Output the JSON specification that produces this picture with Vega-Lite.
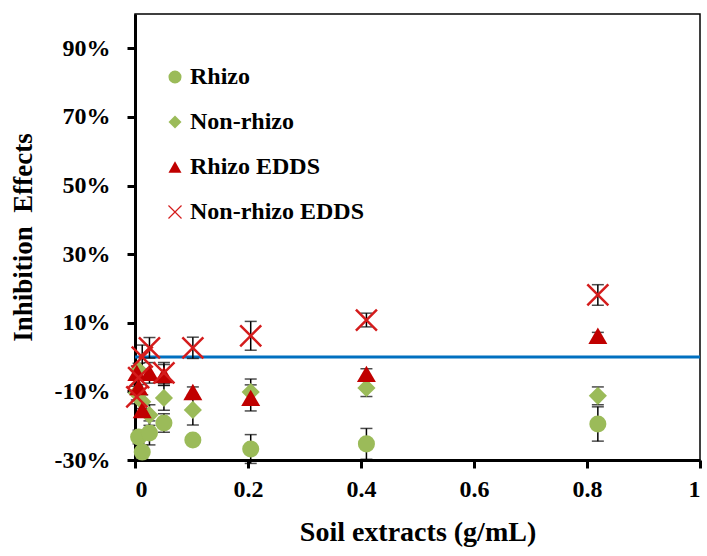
{
  "$schema": "https://vega.github.io/schema/vega-lite/v6.json",
  "width": 565,
  "height": 446,
  "autosize": "none",
  "padding": {"left": 135, "top": 14, "right": 7, "bottom": 96},
  "background": "white",
  "config": {
    "font": "Liberation Serif",
    "view": {"stroke": "black", "strokeWidth": 1.5},
    "axis": {
      "labelFont": "Liberation Serif",
      "labelFontWeight": "bold",
      "labelColor": "black",
      "titleFont": "Liberation Serif",
      "titleFontWeight": "bold",
      "titleColor": "black",
      "domainColor": "black",
      "domainWidth": 3,
      "tickColor": "black",
      "tickWidth": 3,
      "tickSize": 8,
      "grid": false
    },
    "legend": {
      "labelFont": "Liberation Serif",
      "labelFontWeight": "bold",
      "labelFontSize": 24,
      "labelColor": "black",
      "labelLimit": 400,
      "symbolSize": 170,
      "symbolStrokeWidth": 1.2,
      "padding": 0
    }
  },
  "datasets": {
    "points": [
      {"x": 0.0064, "y": -0.233, "lo": -0.253, "hi": -0.213, "series": "Rhizo"},
      {"x": 0.0128, "y": -0.277, "lo": -0.297, "hi": -0.257, "series": "Rhizo"},
      {"x": 0.0256, "y": -0.221, "lo": -0.256, "hi": -0.186, "series": "Rhizo"},
      {"x": 0.0512, "y": -0.192, "lo": -0.219, "hi": -0.165, "series": "Rhizo"},
      {"x": 0.1024, "y": -0.242, "lo": -0.247, "hi": -0.237, "series": "Rhizo"},
      {"x": 0.2048, "y": -0.268, "lo": -0.31, "hi": -0.226, "series": "Rhizo"},
      {"x": 0.4096, "y": -0.253, "lo": -0.298, "hi": -0.208, "series": "Rhizo"},
      {"x": 0.8192, "y": -0.195, "lo": -0.245, "hi": -0.145, "series": "Rhizo"},
      {"x": 0.0032, "y": -0.105, "lo": -0.125, "hi": -0.085, "series": "Non-rhizo"},
      {"x": 0.0064, "y": -0.038, "lo": -0.058, "hi": -0.018, "series": "Non-rhizo"},
      {"x": 0.0128, "y": -0.13, "lo": -0.15, "hi": -0.11, "series": "Non-rhizo"},
      {"x": 0.0256, "y": -0.169, "lo": -0.199, "hi": -0.139, "series": "Non-rhizo"},
      {"x": 0.0512, "y": -0.119, "lo": -0.155, "hi": -0.083, "series": "Non-rhizo"},
      {"x": 0.1024, "y": -0.154, "lo": -0.198, "hi": -0.11, "series": "Non-rhizo"},
      {"x": 0.2048, "y": -0.102, "lo": -0.14, "hi": -0.064, "series": "Non-rhizo"},
      {"x": 0.4096, "y": -0.09, "lo": -0.115, "hi": -0.065, "series": "Non-rhizo"},
      {"x": 0.8192, "y": -0.113, "lo": -0.139, "hi": -0.087, "series": "Non-rhizo"},
      {"x": 0.0032, "y": -0.046, "lo": -0.066, "hi": -0.026, "series": "Rhizo EDDS"},
      {"x": 0.0064, "y": -0.087, "lo": -0.107, "hi": -0.067, "series": "Rhizo EDDS"},
      {"x": 0.0128, "y": -0.154, "lo": -0.174, "hi": -0.134, "series": "Rhizo EDDS"},
      {"x": 0.0256, "y": -0.046, "lo": -0.076, "hi": -0.016, "series": "Rhizo EDDS"},
      {"x": 0.0512, "y": -0.052, "lo": -0.082, "hi": -0.022, "series": "Rhizo EDDS"},
      {"x": 0.1024, "y": -0.102, "lo": -0.117, "hi": -0.087, "series": "Rhizo EDDS"},
      {"x": 0.2048, "y": -0.119, "lo": -0.157, "hi": -0.081, "series": "Rhizo EDDS"},
      {"x": 0.4096, "y": -0.049, "lo": -0.064, "hi": -0.034, "series": "Rhizo EDDS"},
      {"x": 0.8192, "y": 0.062, "lo": 0.052, "hi": 0.072, "series": "Rhizo EDDS"},
      {"x": 0.0032, "y": -0.116, "lo": -0.136, "hi": -0.096, "series": "Non-rhizo EDDS"},
      {"x": 0.0064, "y": -0.06, "lo": -0.08, "hi": -0.04, "series": "Non-rhizo EDDS"},
      {"x": 0.0128, "y": 0.0, "lo": -0.035, "hi": 0.035, "series": "Non-rhizo EDDS"},
      {"x": 0.0256, "y": 0.027, "lo": -0.003, "hi": 0.057, "series": "Non-rhizo EDDS"},
      {"x": 0.0512, "y": -0.046, "lo": -0.076, "hi": -0.016, "series": "Non-rhizo EDDS"},
      {"x": 0.1024, "y": 0.027, "lo": -0.004, "hi": 0.058, "series": "Non-rhizo EDDS"},
      {"x": 0.2048, "y": 0.062, "lo": 0.02, "hi": 0.104, "series": "Non-rhizo EDDS"},
      {"x": 0.4096, "y": 0.108, "lo": 0.088, "hi": 0.128, "series": "Non-rhizo EDDS"},
      {"x": 0.8192, "y": 0.181, "lo": 0.151, "hi": 0.211, "series": "Non-rhizo EDDS"}
    ],
    "baseline": [{"y": 0}]
  },
  "layer": [
    {
      "data": {"name": "baseline"},
      "mark": {"type": "rule", "color": "#0070C0", "strokeWidth": 3},
      "encoding": {
        "y": {"field": "y", "type": "quantitative", "title": "Inhibition\u00a0 Effects", "scale": {"domain": [-0.3, 1.0], "nice": false, "zero": false}}
      }
    },
    {
      "data": {"name": "points"},
      "mark": {
        "type": "errorbar",
        "ticks": {"size": 12, "color": "black", "thickness": 1.5},
        "rule": {"color": "black", "strokeWidth": 1.5}
      },
      "encoding": {
        "x": {"field": "x", "type": "quantitative", "title": "Soil extracts (g/mL)"},
        "y": {"field": "lo", "type": "quantitative", "title": "Inhibition\u00a0 Effects"},
        "y2": {"field": "hi"}
      }
    },
    {
      "data": {"name": "points"},
      "encoding": {
        "x": {
          "field": "x",
          "type": "quantitative",
          "scale": {"domain": [0, 1], "nice": false, "zero": false},
          "axis": {
            "values": [0, 0.2, 0.4, 0.6, 0.8, 1],
            "format": "~g",
            "labelFontSize": 24,
            "labelPadding": 9,
            "title": "Soil extracts (g/mL)",
            "titleFontSize": 28,
            "titlePadding": 17
          }
        },
        "y": {
          "field": "y",
          "type": "quantitative",
          "scale": {"domain": [-0.3, 1.0], "nice": false, "zero": false},
          "axis": {
            "values": [-0.3, -0.1, 0.1, 0.3, 0.5, 0.7, 0.9],
            "format": ".0%",
            "labelExpr": "replace(datum.label, '\u2212', '-')",
            "labelFontSize": 24,
            "labelPadding": 17,
            "title": "Inhibition\u00a0 Effects",
            "titleFontSize": 27,
            "titlePadding": 17
          }
        },
        "shape": {
          "field": "series",
          "type": "nominal",
          "scale": {
            "domain": ["Rhizo", "Non-rhizo", "Rhizo EDDS", "Non-rhizo EDDS"],
            "range": ["circle", "diamond", "triangle-up", "M-1,-1L1,1M-1,1L1,-1"]
          },
          "legend": {"title": null, "orient": "none", "legendX": 28, "legendY": 51, "labelOffset": 3, "rowPadding": 21}
        },
        "fill": {
          "field": "series",
          "type": "nominal",
          "scale": {
            "domain": ["Rhizo", "Non-rhizo", "Rhizo EDDS", "Non-rhizo EDDS"],
            "range": ["#9BBB59", "#9BBB59", "#C00000", "transparent"]
          },
          "legend": {"title": null, "orient": "none", "legendX": 28, "legendY": 51, "labelOffset": 3, "rowPadding": 21}
        },
        "stroke": {
          "field": "series",
          "type": "nominal",
          "scale": {
            "domain": ["Rhizo", "Non-rhizo", "Rhizo EDDS", "Non-rhizo EDDS"],
            "range": ["transparent", "transparent", "transparent", "#D41C1C"]
          },
          "legend": {"title": null, "orient": "none", "legendX": 28, "legendY": 51, "labelOffset": 3, "rowPadding": 21}
        }
      },
      "layer": [
        {
          "transform": [{"filter": "datum.series === 'Rhizo'"}],
          "mark": {"type": "point", "size": 290, "strokeWidth": 2.5, "opacity": 1}
        },
        {
          "transform": [{"filter": "datum.series === 'Non-rhizo'"}],
          "mark": {"type": "point", "size": 330, "strokeWidth": 2.5, "opacity": 1}
        },
        {
          "transform": [{"filter": "datum.series === 'Rhizo EDDS'"}],
          "mark": {"type": "point", "size": 360, "strokeWidth": 2.5, "opacity": 1}
        },
        {
          "transform": [{"filter": "datum.series === 'Non-rhizo EDDS'"}],
          "mark": {"type": "point", "size": 441, "strokeWidth": 2.5, "opacity": 1}
        }
      ]
    }
  ]
}
